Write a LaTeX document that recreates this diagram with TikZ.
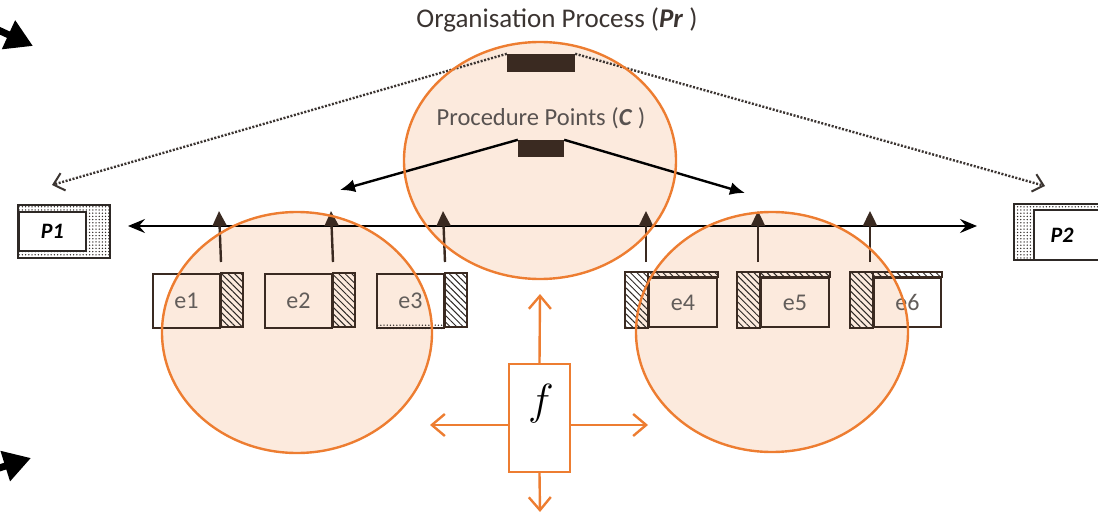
\documentclass[tikz,border=0pt]{standalone}
\usepackage{fontspec}
\setmainfont{Carlito}
\usetikzlibrary{arrows.meta,patterns.meta,shapes.geometric}

\definecolor{orng}{HTML}{ED7D31}
\definecolor{peach}{HTML}{FCEADD}
\definecolor{darkbar}{HTML}{3A2A21}
\definecolor{ink}{HTML}{3B3431}
\definecolor{hatchink}{HTML}{2E2926}

\begin{document}
\begin{tikzpicture}[x=1pt,y=-1pt,
  zone/.style={ellipse,fill=peach,draw=none,inner sep=0pt,outer sep=0pt},
  rim/.style={draw=orng,line width=2.4pt},
  bar/.style={rectangle,fill=darkbar,draw=none,inner sep=0pt},
  heading/.style={font=\fontsize{27}{32}\selectfont,text=ink,inner sep=0pt},
  subheading/.style={font=\fontsize{24.5}{29}\selectfont,text=ink!85,inner sep=0pt},
  dotline/.style={line width=2.4pt,draw=ink,dash pattern=on 2pt off 1.6pt,
    -{Straight Barb[length=10pt,width=18pt,line width=2pt]}},
  solidarrow/.style={line width=2.4pt,draw=black,-{Latex[length=15pt,width=13pt]}},
  axis/.style={line width=2.4pt,draw=black,
    {Stealth[length=17pt,width=14pt,inset=6pt]}-{Stealth[length=17pt,width=14pt,inset=6pt]}},
  uparrow/.style={line width=2.4pt,draw=darkbar,-{Triangle[length=15pt,width=14pt]}},
  ebox/.style={rectangle,draw=darkbar,line width=2pt,inner sep=0pt,
    font=\fontsize{24}{28}\selectfont,text=ink!80},
  hatch/.style={pattern={Lines[angle=-45,distance=4.6pt,line width=1pt]},pattern color=hatchink},
  dotfill/.style={pattern={Dots[distance=3.2pt,radius=0.75pt]},pattern color=hatchink},
  pframe/.style={rectangle,draw=hatchink,line width=1.6pt,inner sep=0pt,dotfill},
  pinner/.style={rectangle,fill=white,draw=hatchink,line width=1.6pt,inner sep=0pt,
    font=\fontsize{22}{26}\selectfont\bfseries\itshape},
  fboxstyle/.style={rectangle,draw=orng,line width=2.4pt,fill=white,inner sep=0pt},
  oarrow/.style={line width=2.4pt,draw=orng,-{Straight Barb[length=13pt,width=22pt,line width=2.4pt]}},
  bigarrow/.style={line width=7pt,draw=black,-{Triangle[length=27pt,width=30pt]}}
]
\useasboundingbox (0,0) rectangle (1098,514);

% shaded zones
\node[zone,minimum width=270pt,minimum height=241pt] (zl) at (297,332.5) {};
\node[zone,minimum width=272pt,minimum height=240pt] (zr) at (772,332) {};
\node[zone,minimum width=272pt,minimum height=237pt] (zc) at (540,160.5) {};

% headings and process bars
\node[heading] (title) at (557,20) {Organisation Process (\textbf{\textit{Pr}} )};
\node[subheading] (cpt) at (541,118) {Procedure Points (\textbf{\textit{C}} )};
\node[bar,minimum width=68pt,minimum height=18pt] (pr) at (541,63) {};
\node[bar,minimum width=46pt,minimum height=17pt] (cp) at (541,148.5) {};

% end processes
\node[pframe,minimum width=92pt,minimum height=53pt] (P1frame) at (64,231.5) {};
\node[pinner,minimum width=67pt,minimum height=39pt,anchor=west] (P1) at (18,231.5) {P1};
\node[pframe,minimum width=90pt,minimum height=56pt,anchor=west] (P2frame) at (1013,232) {};
\node[pinner,minimum width=70pt,minimum height=50pt,anchor=west] (P2) at (1033,235) {};
\node[font=\fontsize{22}{26}\selectfont\bfseries\itshape,inner sep=0pt] (P2text) at (1062,235) {P2};

% dotted links from the organisation process
\coordinate (p1tip) at (52,185);
\coordinate (p2tip) at (1045,186);
\draw[dotline] (pr.north west) -- (p1tip);
\draw[dotline] (pr.north east) -- (p2tip);

% procedure point links
\coordinate (cl) at (340,190);
\coordinate (cr) at (745,193);
\draw[solidarrow] (cp.north west) -- (cl);
\draw[solidarrow] (cp.north east) -- (cr);

% main axis
\coordinate (hl) at (128,226);
\coordinate (hr) at (977,226);
\draw[axis] (hl) -- (hr);

% elements with right-hand hatching
\node[ebox,minimum width=67pt,minimum height=54pt,anchor=north west] (e1) at (152,273) {e1};
\node[ebox,minimum width=67pt,minimum height=54pt,anchor=north west] (e2) at (264,273) {e2};
\node[ebox,minimum width=67pt,minimum height=54pt,anchor=north west] (e3) at (376,273) {e3};
\foreach \n in {e1,e2,e3}{
  \draw[hatch,draw=darkbar,line width=2pt] (\n.north east) rectangle ++(22,54);
}
\fill[dotfill] ([xshift=1pt,yshift=5pt]e3.south west) rectangle ([xshift=-1pt]e3.south east);

% elements with left-hand and top hatching
\node[ebox,minimum width=68pt,minimum height=49pt,anchor=north west] (e4) at (648,277) {e4};
\node[ebox,minimum width=68pt,minimum height=49pt,anchor=north west] (e5) at (760,277) {e5};
\node[ebox,minimum width=67pt,minimum height=49pt,anchor=north west] (e6) at (873,277) {e6};
\foreach \n in {e4,e5,e6}{
  \draw[hatch,draw=darkbar,line width=2pt] ([xshift=-23pt]\n.south west) rectangle ([yshift=5pt]\n.north west);
  \draw[hatch,draw=darkbar,line width=2pt] ([yshift=5pt]\n.north west) rectangle (\n.north east);
}

% contributions rising to the axis
\coordinate (t1) at (219,211);
\coordinate (t2) at (331,211);
\coordinate (t3) at (443,211);
\coordinate (t4) at (646,211);
\coordinate (t5) at (758,211);
\coordinate (t6) at (870,211);
\draw[uparrow] ([yshift=11pt]e1.north east) -- (t1);
\draw[uparrow] ([yshift=11pt]e2.north east) -- (t2);
\draw[uparrow] ([yshift=11pt]e3.north east) -- (t3);
\draw[uparrow] ([xshift=-2pt,yshift=15pt]e4.north west) -- (t4);
\draw[uparrow] ([xshift=-2pt,yshift=15pt]e5.north west) -- (t5);
\draw[uparrow] ([xshift=-3pt,yshift=15pt]e6.north west) -- (t6);

% zone outlines
\draw[rim] (zl.center) ellipse [x radius=135pt,y radius=120.5pt];
\draw[rim] (zr.center) ellipse [x radius=136pt,y radius=120pt];
\draw[rim] (zc.center) ellipse [x radius=136pt,y radius=118.5pt];

% function box
\node[fboxstyle,minimum width=61pt,minimum height=108pt] (fb) at (539.5,418) {};
\node[inner sep=0pt] (fsym) at (541,404) {\scalebox{2.1}{\fontsize{20}{24}\selectfont$f$}};
\coordinate (fu) at (540,294);
\coordinate (fl) at (430,425);
\coordinate (fr) at (648,425);
\coordinate (fd) at (540,512);
\draw[oarrow] (fb.north) -- (fu);
\draw[oarrow] (fb.west |- fl) -- (fl);
\draw[oarrow] (fb.east |- fr) -- (fr);
\draw[oarrow] (fb.south) -- (fd);

% margin pointers
\coordinate (ka) at (-4,29);
\coordinate (kb) at (33,46);
\coordinate (kc) at (-4,469);
\coordinate (kd) at (31,458);
\draw[bigarrow] (ka) -- (kb);
\draw[bigarrow] (kc) -- (kd);
\end{tikzpicture}
\end{document}
